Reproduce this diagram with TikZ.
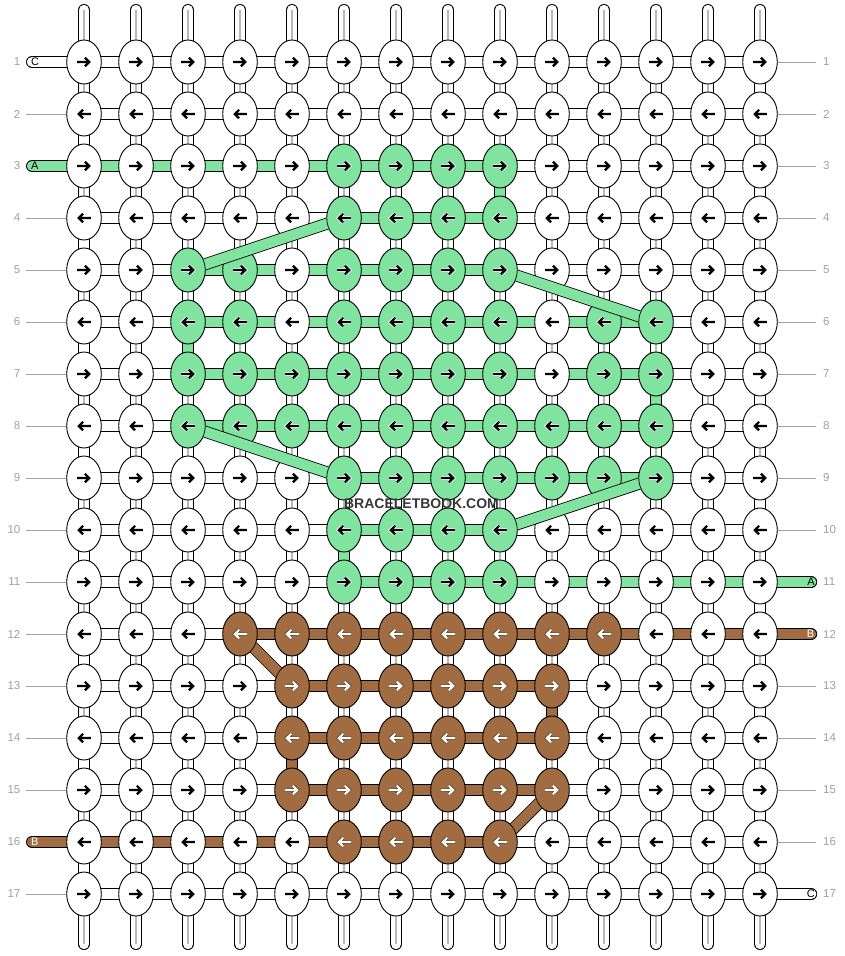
\documentclass[tikz,border=0pt]{standalone}
\usepackage{fontspec}
\newfontfamily\lsans{Liberation Sans}
\usetikzlibrary{shapes.geometric}
\definecolor{kgreen}{RGB}{128,228,160}
\definecolor{kbrown}{RGB}{161,108,66}
\definecolor{lblgray}{RGB}{160,160,160}
\definecolor{midgray}{RGB}{185,185,185}
\definecolor{wmgray}{RGB}{55,55,55}
\definecolor{darkhalo}{RGB}{70,45,25}
\pgfdeclarelayer{bg}\pgfdeclarelayer{fg}\pgfsetlayers{bg,main,fg}

% map helper: \setmap{prefix}{row}{list of columns}{value}
\newcommand\setmap[4]{\foreach \q in {#3}{\expandafter\xdef\csname #1-#2-\q\endcsname{#4}}}
% knot colours
\setmap{kc}{3}{6,7,8,9}{kgreen}
\setmap{kc}{4}{6,7,8,9}{kgreen}
\setmap{kc}{5}{3,4,6,7,8,9}{kgreen}
\setmap{kc}{6}{3,4,6,7,8,9,11,12}{kgreen}
\setmap{kc}{7}{3,4,5,6,7,8,9,11,12}{kgreen}
\setmap{kc}{8}{3,4,5,6,7,8,9,10,11,12}{kgreen}
\setmap{kc}{9}{6,7,8,9,10,11,12}{kgreen}
\setmap{kc}{10}{6,7,8,9}{kgreen}
\setmap{kc}{11}{6,7,8,9}{kgreen}
\setmap{kc}{12}{4,5,6,7,8,9,10,11}{kbrown}
\setmap{kc}{13}{5,6,7,8,9,10}{kbrown}
\setmap{kc}{14}{5,6,7,8,9,10}{kbrown}
\setmap{kc}{15}{5,6,7,8,9,10}{kbrown}
\setmap{kc}{16}{6,7,8,9}{kbrown}
% horizontal segment colours (segment from column c to c+1)
\setmap{hc}{3}{1,2,3,4,5,6,7,8}{kgreen}
\setmap{hc}{4}{6,7,8}{kgreen}
\setmap{hc}{5}{3,4,5,6,7,8}{kgreen}
\setmap{hc}{6}{3,4,5,6,7,8,9,10,11}{kgreen}
\setmap{hc}{7}{3,4,5,6,7,8,9,10,11}{kgreen}
\setmap{hc}{8}{3,4,5,6,7,8,9,10,11}{kgreen}
\setmap{hc}{9}{6,7,8,9,10,11}{kgreen}
\setmap{hc}{10}{6,7,8}{kgreen}
\setmap{hc}{11}{6,7,8,9,10,11,12,13}{kgreen}
\setmap{hc}{12}{4,5,6,7,8,9,10,11,12,13}{kbrown}
\setmap{hc}{13}{5,6,7,8,9}{kbrown}
\setmap{hc}{14}{5,6,7,8,9}{kbrown}
\setmap{hc}{15}{5,6,7,8,9}{kbrown}
\setmap{hc}{16}{1,2,3,4,5,6,7,8}{kbrown}
% vertical connectors (row r to r+1)
\setmap{vc}{3}{9}{kgreen}
\setmap{vc}{6}{3}{kgreen}
\setmap{vc}{7}{12}{kgreen}
\setmap{vc}{10}{6}{kgreen}
\setmap{vc}{13}{10}{kbrown}
\setmap{vc}{14}{5}{kbrown}
\foreach \q in {1,3,...,15}{\expandafter\xdef\csname vc-\q-14\endcsname{plain}}
\foreach \q in {2,4,...,16}{\expandafter\xdef\csname vc-\q-1\endcsname{plain}}
\def\PLAIN{plain}\def\WHITE{white}\def\KG{kgreen}\def\KB{kbrown}

\newcommand\diagband[3]{%
  \begin{scope}[even odd rule]
    \clip (-20,-20) rectangle (870,980)
      (#1.center) ellipse [x radius=17.75, y radius=22.45]
      (#2.center) ellipse [x radius=17.75, y radius=22.45];
    \draw[band=#3] (#1.center) -- (#2.center);
  \end{scope}}

\begin{document}
\begin{tikzpicture}[x=1pt,y=-1pt,
  knot/.style={ellipse, draw=black, line width=0.9pt, minimum width=34.6pt, minimum height=44pt, inner sep=0pt},
  band/.style={line width=0.8pt, double distance=10.4pt, double=#1},
  gline/.style={draw=midgray, line width=1.1pt},
  lline/.style={draw=lblgray, line width=0.8pt},
  rowlbl/.style={font=\lsans\fontsize{11.5}{13}\selectfont, text=lblgray, inner sep=0pt},
  taillbl/.style={font=\lsans\fontsize{11}{13}\selectfont, inner sep=0pt},
  wm/.style={font=\lsans\bfseries\fontsize{14}{16}\selectfont, inner sep=0pt},
  arr/.style={line join=miter, line cap=butt}
]
\useasboundingbox (0,0) rectangle (844,956);

% knots
\foreach \rr in {1,...,17}{
  \foreach \cc in {1,...,14}{
    \pgfmathsetmacro\xx{84+52*(\cc-1)}
    \pgfmathsetmacro\yy{62+52*(\rr-1)}
    \edef\kf{\ifcsname kc-\rr-\cc\endcsname\csname kc-\rr-\cc\endcsname\else white\fi}
    \node[knot, fill=\kf] (k-\rr-\cc) at (\xx,\yy) {};
  }
}

% arrows in knots
\foreach \rr in {1,...,17}{
  \foreach \cc in {1,...,14}{
    \pgfmathsetmacro\xx{84+52*(\cc-1)}
    \pgfmathsetmacro\yy{62+52*(\rr-1)}
    \edef\kf{\ifcsname kc-\rr-\cc\endcsname\csname kc-\rr-\cc\endcsname\else white\fi}
    \def\halo{none}\def\ac{black}\def\hw{3.8pt}
    \ifx\kf\KG\def\halo{white}\fi
    \ifx\kf\KB\def\halo{darkhalo}\def\ac{white}\def\hw{3.4pt}\fi
    \ifodd\rr\def\dir{1}\else\def\dir{-1}\fi
    \begin{scope}[shift={(\xx,\yy)}, xscale=\dir]
      \draw[arr, draw=\halo, line width=\hw] (-6.8,0) -- (5.2,0) (0.9,-4.3) -- (5.2,0) -- (0.9,4.3);
      \draw[arr, draw=\ac, line width=2.2pt] (-6.8,0) -- (5.2,0) (0.9,-4.3) -- (5.2,0) -- (0.9,4.3);
    \end{scope}
  }
}

\begin{pgfonlayer}{bg}
  % warp tails at top and bottom
  \foreach \cc in {1,...,14}{
    \pgfmathsetmacro\xx{84+52*(\cc-1)}
    \coordinate (tt-\cc) at (\xx,10);
    \coordinate (bt-\cc) at (\xx,944);
    \draw[band=white, line cap=round] (tt-\cc) -- (k-1-\cc.center);
    \draw[band=white, line cap=round] (bt-\cc) -- (k-17-\cc.center);
    \draw[gline] (tt-\cc) -- (k-1-\cc.center);
    \draw[gline] (bt-\cc) -- (k-17-\cc.center);
  }
  % horizontal segments
  \foreach \rr in {1,...,17}{
    \foreach \cc in {1,...,13}{
      \pgfmathtruncatemacro\cn{\cc+1}
      \edef\hcol{\ifcsname hc-\rr-\cc\endcsname\csname hc-\rr-\cc\endcsname\else white\fi}
      \draw[band=\hcol] (k-\rr-\cc.center) -- (k-\rr-\cn.center);
    }
  }
  % vertical connectors
  \foreach \rr in {1,...,16}{
    \foreach \cc in {1,...,14}{
      \pgfmathtruncatemacro\rn{\rr+1}
      \edef\vcol{\ifcsname vc-\rr-\cc\endcsname\csname vc-\rr-\cc\endcsname\else white\fi}
      \ifx\vcol\PLAIN
        \draw[band=white] (k-\rr-\cc.center) -- (k-\rn-\cc.center);
      \else
        \draw[band=\vcol] (k-\rr-\cc.center) -- (k-\rn-\cc.center);
        \ifx\vcol\WHITE
          \draw[gline] (k-\rr-\cc.center) -- (k-\rn-\cc.center);
        \fi
      \fi
    }
  }
  % string ends
  \coordinate (tl-1) at (32,62);
  \coordinate (tl-3) at (32,166);
  \coordinate (tl-16) at (32,842);
  \coordinate (tr-11) at (811.2,582);
  \coordinate (tr-12) at (811.2,634);
  \coordinate (tr-17) at (811.2,894);
  \draw[band=white, line cap=round] (tl-1) -- (k-1-1.center);
  \draw[band=kgreen, line cap=round] (tl-3) -- (k-3-1.center);
  \draw[band=kbrown, line cap=round] (tl-16) -- (k-16-1.center);
  \draw[band=kgreen, line cap=round] (tr-11) -- (k-11-14.center);
  \draw[band=kbrown, line cap=round] (tr-12) -- (k-12-14.center);
  \draw[band=white, line cap=round] (tr-17) -- (k-17-14.center);
  % thin label lines
  \foreach \rr in {2,4,5,6,7,8,9,10,11,12,13,14,15,17}{
    \pgfmathsetmacro\yy{62+52*(\rr-1)}
    \coordinate (ll-\rr) at (26,\yy);
    \draw[lline] (ll-\rr) -- (k-\rr-1.west);
  }
  \foreach \rr in {1,2,3,4,5,6,7,8,9,10,13,14,15,16}{
    \pgfmathsetmacro\yy{62+52*(\rr-1)}
    \coordinate (rl-\rr) at (816,\yy);
    \draw[lline] (k-\rr-14.east) -- (rl-\rr);
  }
\end{pgfonlayer}

% row numbers
\foreach \rr in {1,...,17}{
  \pgfmathsetmacro\yy{62+52*(\rr-1)}
  \node[rowlbl, anchor=east] (nl-\rr) at (20.5,\yy) {\rr};
  \node[rowlbl, anchor=west] (nr-\rr) at (823,\yy) {\rr};
}
% string labels
\node[taillbl, anchor=west, text=black] (lc) at (31,62) {C};
\node[taillbl, anchor=west, text=black] (la) at (31,166) {A};
\node[taillbl, anchor=west, text=white] (lb) at (31,842) {B};
\node[taillbl, anchor=east, text=black] (ra) at (815,582) {A};
\node[taillbl, anchor=east, text=white] (rb) at (814.5,634) {B};
\node[taillbl, anchor=east, text=black] (rc) at (815,894) {C};

\begin{pgfonlayer}{fg}
  \diagband{k-5-3}{k-4-6}{kgreen}
  \diagband{k-5-9}{k-6-12}{kgreen}
  \diagband{k-8-3}{k-9-6}{kgreen}
  \diagband{k-9-12}{k-10-9}{kgreen}
  \diagband{k-12-4}{k-13-5}{kbrown}
  \diagband{k-15-10}{k-16-9}{kbrown}
  % watermark
  \node[wm, text=wmgray] (wm) at (421.5,503.5) {BRACELETBOOK.COM};
\end{pgfonlayer}
\end{tikzpicture}
\end{document}
